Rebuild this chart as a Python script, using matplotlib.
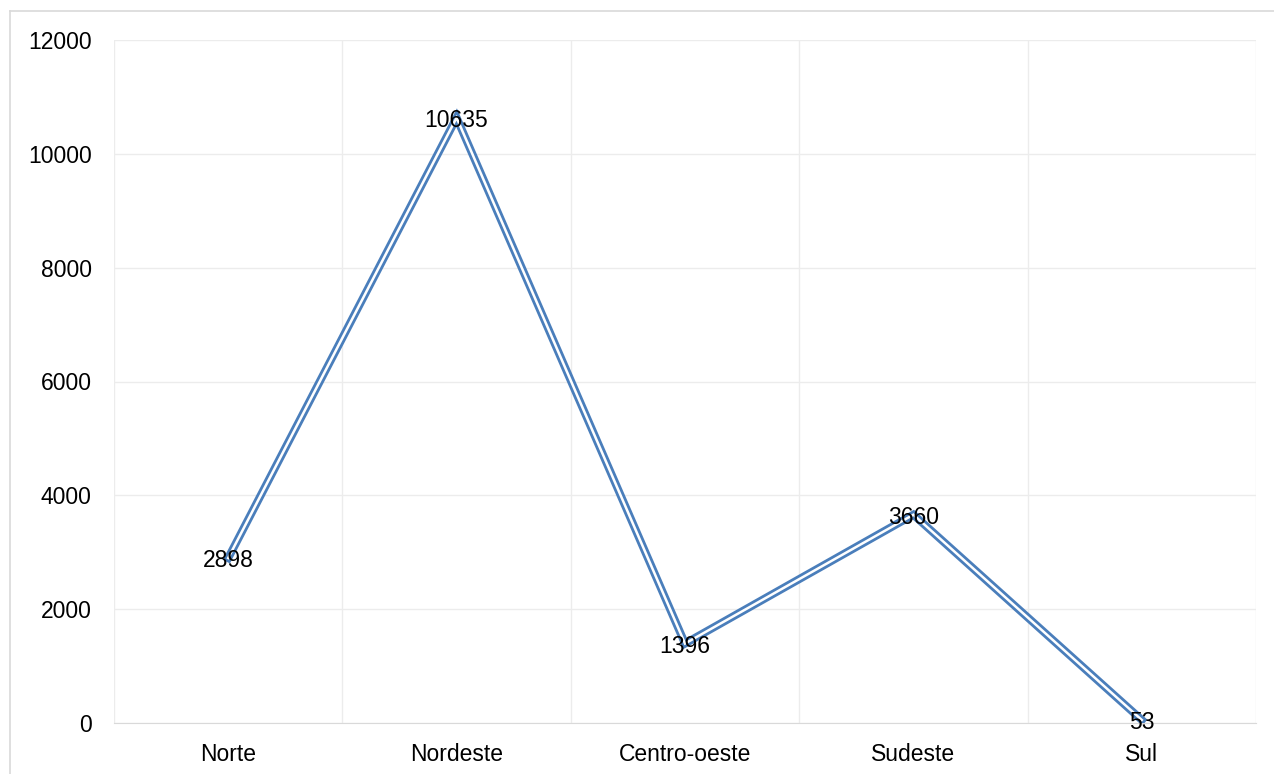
import matplotlib.pyplot as plt
from matplotlib.lines import Line2D

plt.rcParams['font.family'] = ['Liberation Sans', 'DejaVu Sans']

regioes = ['Norte', 'Nordeste', 'Centro-oeste', 'Sudeste', 'Sul']
valores = [2898, 10635, 1396, 3660, 53]

fig = plt.figure(figsize=(12.74, 7.74), dpi=100)
ax = fig.add_axes([114 / 1274, 1 - 723 / 774, (1256 - 114) / 1274, (723 - 40) / 774])

x = list(range(len(regioes)))
# double line: thick blue stroke with a thin white core
ax.plot(x, valores, color='#4a7ebb', lw=5.8, solid_joinstyle='miter', zorder=3)
ax.plot(x, valores, color='white', lw=1.8, solid_joinstyle='miter', zorder=4)

for xi, v in zip(x, valores):
    ax.text(xi, v, str(v), ha='center', va='center_baseline', fontsize=16.5,
            color='black', zorder=5)

ax.set_xlim(-0.5, len(regioes) - 0.5)
ax.set_ylim(0, 12000)
ax.set_yticks(range(0, 12001, 2000))
ax.set_xticks(x)
ax.set_xticklabels(regioes)
ax.set_xticks([i + 0.5 for i in range(-1, len(regioes))], minor=True)

ax.grid(axis='y', which='major', color='#ececec', lw=1)
ax.grid(axis='x', which='minor', color='#ececec', lw=1)
ax.set_axisbelow(True)

for s in ['top', 'right', 'left']:
    ax.spines[s].set_visible(False)
ax.spines['bottom'].set_color('#d9d9d9')
ax.tick_params(axis='both', which='both', length=0, labelsize=16.5, colors='black')
ax.tick_params(axis='y', pad=16)
ax.tick_params(axis='x', pad=14.5)

# outer chart border
fig.add_artist(Line2D([9.5 / 1274, 9.5 / 1274], [0, 1 - 10.5 / 774], transform=fig.transFigure,
                      color='#d9d9d9', lw=1.2))
fig.add_artist(Line2D([9.5 / 1274, 1], [1 - 10.5 / 774, 1 - 10.5 / 774], transform=fig.transFigure,
                      color='#d9d9d9', lw=1.2))

fig.savefig('out.png', dpi=100)
